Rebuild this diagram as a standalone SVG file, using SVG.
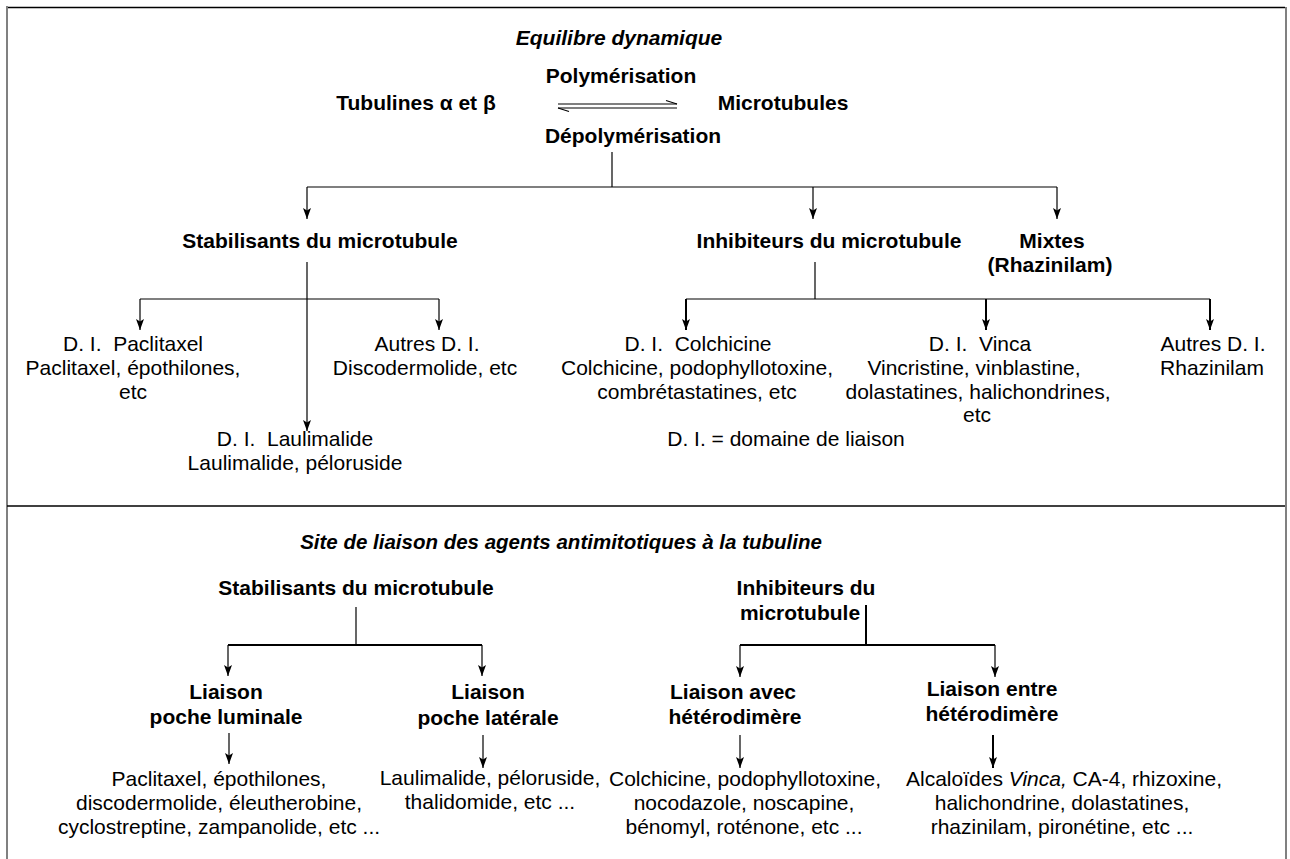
<svg xmlns="http://www.w3.org/2000/svg" width="1290" height="859" viewBox="0 0 1290 859">
<style>
text{font-family:"Liberation Sans",Arial,sans-serif;fill:#000;font-size:21px}
.b{font-weight:bold}
.bi{font-weight:bold;font-style:italic}
.c{text-anchor:middle}
.ln{stroke:#000;stroke-width:1.2;fill:none}
.lt{stroke:#000;stroke-width:2;fill:none}
</style>
<defs>
<marker id="ah" viewBox="0 0 11 8" refX="11" refY="4" markerWidth="11" markerHeight="8" markerUnits="userSpaceOnUse" orient="auto">
<path d="M0,0 L11,4 L0,8 L2.5,4 Z" fill="#000"/>
</marker>
</defs>
<rect width="1290" height="859" fill="#fff"/>
<g id="frame">
<line x1="7" y1="7.5" x2="1285" y2="7.5" stroke="#000" stroke-width="1.5"/>
<line x1="7" y1="6" x2="7" y2="859" stroke="#808080" stroke-width="2"/>
<line x1="1286" y1="7" x2="1286" y2="859" stroke="#808080" stroke-width="2"/>
<line x1="7" y1="506" x2="1285" y2="506" stroke="#000" stroke-width="1.5"/>
</g>
<g id="connectors">
<line x1="558" y1="104" x2="677" y2="104" class="ln"/>
<path d="M677,104 L666,100.5" class="ln"/>
<line x1="558" y1="108" x2="677" y2="108" class="ln"/>
<path d="M558,108 L569,111.5" class="ln"/>
<path d="M612,152 V187" class="ln"/>
<path d="M307,187 H1057" class="ln"/>
<path d="M307,187 V219" class="ln" marker-end="url(#ah)"/>
<path d="M813,187 V219" class="ln" marker-end="url(#ah)"/>
<path d="M1057,187 V219" class="ln" marker-end="url(#ah)"/>
<path d="M307,262 V431" class="ln" marker-end="url(#ah)"/>
<path d="M140,299 H439" class="ln"/>
<path d="M140,299 V330" class="ln" marker-end="url(#ah)"/>
<path d="M439,299 V330" class="ln" marker-end="url(#ah)"/>
<path d="M815,262 V299" class="ln"/>
<path d="M686,299 H1210" class="ln"/>
<path d="M686,299 V330" class="lt" marker-end="url(#ah)"/>
<path d="M986,299 V330" class="lt" marker-end="url(#ah)"/>
<path d="M1210,299 V330" class="lt" marker-end="url(#ah)"/>
<path d="M356,607 V645" class="ln"/>
<path d="M228,645 H482" class="lt"/>
<path d="M228,645 V676" class="ln" marker-end="url(#ah)"/>
<path d="M482,645 V676" class="ln" marker-end="url(#ah)"/>
<path d="M229,733 V764" class="ln" marker-end="url(#ah)"/>
<path d="M483,735 V768" class="ln" marker-end="url(#ah)"/>
<path d="M866,605 V645" class="lt"/>
<path d="M740,645 H995" class="lt"/>
<path d="M740,645 V677" class="ln" marker-end="url(#ah)"/>
<path d="M995,645 V677" class="ln" marker-end="url(#ah)"/>
<path d="M740,735 V768" class="ln" marker-end="url(#ah)"/>
<path d="M993,735 V768" class="lt" marker-end="url(#ah)"/>
</g>
<g id="title1"><text x="619" y="45" class="bi c">Equilibre dynamique</text></g>
<g id="polym"><text x="621" y="83" class="b c">Polymérisation</text></g>
<g id="tubulines"><text x="416" y="110" class="b c">Tubulines α et β</text></g>
<g id="microtubules"><text x="783" y="110" class="b c">Microtubules</text></g>
<g id="depolym"><text x="633" y="143" class="b c">Dépolymérisation</text></g>
<g id="stab1"><text x="320" y="248" class="b c">Stabilisants du microtubule</text></g>
<g id="inhib1"><text x="829" y="248" class="b c">Inhibiteurs du microtubule</text></g>
<g id="mixtes"><text x="1052" y="248" class="b c">Mixtes</text><text x="1050" y="272" class="b c">(Rhazinilam)</text></g>
<g id="di-paclitaxel"><text x="133" y="351" class="c">D. I.&#160; Paclitaxel</text><text x="133" y="375" class="c">Paclitaxel, épothilones,</text><text x="133" y="399" class="c">etc</text></g>
<g id="autres-di1"><text x="427" y="351" class="c">Autres D. I.</text><text x="425" y="375" class="c">Discodermolide, etc</text></g>
<g id="di-laulimalide"><text x="295" y="446" class="c">D. I.&#160; Laulimalide</text><text x="295" y="470" class="c">Laulimalide, péloruside</text></g>
<g id="di-colchicine"><text x="698" y="351" class="c">D. I.&#160; Colchicine</text><text x="697" y="375" class="c">Colchicine, podophyllotoxine,</text><text x="697" y="399" class="c">combrétastatines, etc</text></g>
<g id="di-vinca"><text x="980" y="351" class="c">D. I.&#160; Vinca</text><text x="974" y="375" class="c">Vincristine, vinblastine,</text><text x="978" y="399" class="c">dolastatines, halichondrines,</text><text x="977" y="422" class="c">etc</text></g>
<g id="autres-di2"><text x="1213" y="351" class="c">Autres D. I.</text><text x="1212" y="375" class="c">Rhazinilam</text></g>
<g id="legend"><text x="786" y="446" class="c">D. I. = domaine de liaison</text></g>
<g id="title2"><text x="561" y="549" class="bi c" style="font-size:20.5px">Site de liaison des agents antimitotiques à la tubuline</text></g>
<g id="stab2"><text x="356" y="595" class="b c">Stabilisants du microtubule</text></g>
<g id="inhib2"><text x="806" y="595" class="b c">Inhibiteurs du</text><text x="800" y="620" class="b c">microtubule</text></g>
<g id="luminale"><text x="226" y="699" class="b c">Liaison</text><text x="226" y="724" class="b c">poche luminale</text></g>
<g id="laterale"><text x="488" y="699" class="b c">Liaison</text><text x="488" y="725" class="b c">poche latérale</text></g>
<g id="avec"><text x="733" y="699" class="b c">Liaison avec</text><text x="735" y="724" class="b c">hétérodimère</text></g>
<g id="entre"><text x="992" y="696" class="b c">Liaison entre</text><text x="992" y="721" class="b c">hétérodimère</text></g>
<g id="list-luminale"><text x="219" y="786" class="c">Paclitaxel, épothilones,</text><text x="219" y="810" class="c">discodermolide, éleutherobine,</text><text x="219" y="834" class="c">cyclostreptine, zampanolide, etc ...</text></g>
<g id="list-laterale"><text x="490" y="785" class="c">Laulimalide, péloruside,</text><text x="490" y="809" class="c">thalidomide, etc ...</text></g>
<g id="list-avec"><text x="745" y="786" class="c">Colchicine, podophyllotoxine,</text><text x="744" y="810" class="c">nocodazole, noscapine,</text><text x="744" y="834" class="c">bénomyl, roténone, etc ...</text></g>
<g id="list-entre"><text x="1064" y="786" class="c">Alcaloïdes <tspan font-style="italic">Vinca,</tspan> CA-4, rhizoxine,</text><text x="1062" y="810" class="c">halichondrine, dolastatines,</text><text x="1062" y="834" class="c">rhazinilam, pironétine, etc ...</text></g>
</svg>
